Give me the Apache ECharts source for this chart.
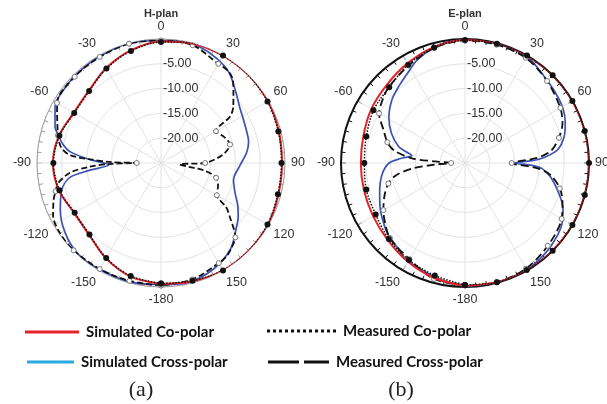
<!DOCTYPE html>
<html>
<head>
<meta charset="utf-8">
<script src="https://cdn.jsdelivr.net/npm/echarts@6/dist/echarts.min.js"></script>
<style>
html,body{margin:0;padding:0;background:#fff;}
#chart{width:607px;height:404px;}
</style>
</head>
<body>
<div id="chart"></div>
<script>
// ---------------- DATA (angle in degrees, level in dB) ----------------
const seriesNames = ['Simulated Co-polar', 'Simulated Cross-polar', 'Measured Co-polar', 'Measured Cross-polar'];
const planTitles = ['H-plan', 'E-plan'];
const panelLabels = ['(a)', '(b)'];
const radiusLabelled = [-20, -15, -10, -5];

// H-plane
const hCoAngles = [-180,-165,-150,-135,-120,-105,-90,-75,-60,-45,-30,-15,0,15,30,45,60,75,90,105,120,135,150,165,180];
const hSimCoDb  = [-0.6,-1.3,-2.8,-4.5,-4.8,-3.7,-3.2,-3.7,-4.7,-4.4,-2.9,-1.5,-0.5,-0.1,0,0,-0.1,-0.4,-0.6,-0.5,-0.1,0,0,-0.3,-0.6];
const hMeasCoDb = [-0.7,-1.4,-2.9,-4.6,-4.9,-3.8,-3.3,-3.8,-4.8,-4.5,-3.0,-1.6,-0.6,0,0,0,-0.2,-0.5,-0.7,-0.6,-0.2,0,0,-0.4,-0.7];

const hSimXAngles = [-180,-165,-148,-137,-126,-115,-105,-99,-96,-92,-87,-83,-79,-75,-71,-62,-50,-40,-30,-15,0,9,18,28,37,47,55,62,70,76,83,92,103,112,119,125,130,141,154,168,180];
const hSimXDb     = [-0.5,-0.2,-0.2,-0.2,-1.1,-2.6,-4.3,-6.4,-10.3,-14.5,-10.4,-6.6,-4.8,-3.6,-2.4,-0.8,-0.4,-0.3,-0.2,0,-0.3,-0.2,-0.3,-1.1,-2.2,-4.3,-5.6,-6.2,-6.6,-6.8,-7.6,-9.1,-10.0,-8.9,-7.3,-6.0,-5.1,-2.7,-1.1,-0.3,-0.5];

const hMeasXAngles = [-180,-165,-150,-135,-125,-116,-109,-105,-101,-96,-93,-91,-90,-89,-87,-85,-81,-75,-60,-45,-30,-15,0,15,30,36,41,46,52,56,60,67,75,82,90,94,100,105,112,120,124,128,135,140,145,150,165,180];
const hMeasXDb     = [-0.3,-0.4,-0.3,-0.1,-0.2,-0.8,-2.1,-3.0,-3.9,-6.6,-10.6,-15.0,-20.1,-15.0,-10.5,-6.5,-4.6,-3.5,-0.8,-0.4,-0.3,-0.1,-0.3,-0.4,-1.9,-2.0,-2.9,-4.7,-6.5,-8.2,-12.2,-11.3,-10.6,-12.3,-16.1,-21.2,-16.0,-13.5,-12.6,-12.0,-9.2,-7.4,-3.8,-2.8,-2.0,-1.7,-0.7,-0.3];

// E-plane
const eCoAngles = [-180,-165,-150,-135,-120,-105,-90,-75,-60,-45,-30,-15,0,15,30,45,60,75,90,105,120,135,150,165,180];
const eSimCoDb  = [-0.2,-1.0,-2.0,-3.0,-3.6,-3.9,-4.0,-3.8,-3.2,-2.7,-1.8,-0.8,-0.2,0,0,0,0,0,0,0,0,0,0,-0.1,-0.2];
const eMeasCoDb = [-0.4,-1.5,-2.4,-3.3,-4.2,-4.4,-4.7,-4.4,-3.7,-3.4,-2.1,-0.9,-0.2,-0.1,0,0,0,0,0,0,0,0,-0.1,-0.1,-0.4];

const eSimXAngles = [-180,-168,-155,-148,-141,-133,-128,-119,-109,-98,-90,-86,-82,-79,-76,-68,-59,-49,-41,-32,-25,-15,-8,0,15,25,32,42,52,61,68,75,82,86,88,90,92,94,99,108,115,123,134,143,150,165,180];
const eSimXDb     = [-0.1,-1.0,-1.9,-2.2,-3.2,-3.8,-4.4,-5.5,-6.8,-8.1,-9.7,-12.0,-14.2,-12.8,-11.2,-9.0,-7.1,-5.5,-4.6,-3.4,-2.1,-0.9,-0.4,-0.2,-0.1,-0.1,-0.3,-1.3,-1.9,-2.4,-3.2,-4.3,-6.2,-9.0,-11.5,-15.2,-11.5,-9.5,-7.6,-5.1,-3.2,-1.8,-0.9,-0.4,-0.1,0,-0.1];

const eMeasXAngles = [-180,-165,-150,-135,-126,-120,-112,-105,-100,-96,-93,-90,-87,-85,-80,-75,-68,-60,-52,-45,-30,-15,0,15,30,45,60,68,75,82,86,90,94,98,105,112,120,135,150,165,180];
const eMeasXDb     = [-0.3,-0.8,-2.6,-3.6,-5.0,-6.0,-7.5,-9.0,-10.9,-14.3,-19.0,-22.2,-19.0,-14.3,-10.5,-8.8,-7.3,-5.0,-4.0,-3.3,-2.3,-1.0,-0.3,-0.3,-0.5,-1.6,-2.8,-3.8,-5.4,-7.5,-10.5,-15.6,-10.5,-7.6,-5.2,-3.8,-2.5,-1.4,-0.4,-0.1,-0.3];

// ---------------- BUILD ----------------
function toPolar(angles, values) {
  return angles.map(function (a, i) { return [values[i], a < 0 ? a + 360 : a]; });
}
const markEvery15 = function (sym) {
  return function (v) { return (Math.round(v[1]) % 15 === 0) ? sym : 'none'; };
};

const RED = '#e52329', BLUE = '#3b51b3', LEGEND_BLUE = '#2aa9e0';
const FONT = 'Liberation Sans';

function angleAxis(idx, strong) {
  const c = strong ? '#111' : '#9c9c9c';
  return {
    polarIndex: idx, type: 'value', min: 0, max: 360, interval: 30,
    startAngle: 90, clockwise: true,
    axisLine: { show: true, lineStyle: { color: c, width: strong ? 2 : 1 } },
    axisTick: { show: true, inside: true, length: 5, lineStyle: { color: c, width: 1 } },
    minorTick: { show: true, splitNumber: 6, length: 4, lineStyle: { color: c, width: 1 } },
    splitLine: { show: true, lineStyle: { color: '#e3e3e3', width: 1 } },
    axisLabel: {
      margin: 6, color: '#333', fontSize: 12.5, fontFamily: FONT,
      formatter: function (v) { return String(v >= 180 ? v - 360 : v); }
    }
  };
}
function radiusAxis(idx) {
  return {
    polarIndex: idx, type: 'value', min: -25, max: 0, interval: 5,
    axisLine: { show: false }, axisTick: { show: false },
    splitLine: { show: true, lineStyle: { color: '#e3e3e3', width: 1 } },
    axisLabel: {
      margin: -2, align: 'left', verticalAlign: 'middle',
      color: '#333', fontSize: 12.5, fontFamily: FONT,
      formatter: function (v) { return radiusLabelled.indexOf(v) >= 0 ? v.toFixed(2) : ''; }
    }
  };
}
function planSeries(idx, simCoA, simCo, measCo, simXA, simX, measXA, measX, dash) {
  return [
    { name: seriesNames[1], type: 'line', coordinateSystem: 'polar', polarIndex: idx,
      data: toPolar(simXA, simX), smooth: 0.3, symbol: 'none', z: 2,
      lineStyle: { color: BLUE, width: 1.7 }, itemStyle: { color: BLUE } },
    { name: seriesNames[3], type: 'line', coordinateSystem: 'polar', polarIndex: idx,
      data: toPolar(measXA, measX), smooth: 0.3, z: 3,
      symbol: markEvery15('circle'), symbolSize: 5,
      lineStyle: { color: '#111', width: 1.8, type: dash },
      itemStyle: { color: '#fff', borderColor: '#777', borderWidth: 1 } },
    { name: seriesNames[0], type: 'line', coordinateSystem: 'polar', polarIndex: idx,
      data: toPolar(simCoA, simCo), smooth: 0.3, symbol: 'none', z: 4,
      lineStyle: { color: RED, width: 2 }, itemStyle: { color: RED } },
    { name: seriesNames[2], type: 'line', coordinateSystem: 'polar', polarIndex: idx,
      data: toPolar(simCoA, measCo), smooth: 0.3, z: 5,
      symbol: 'circle', symbolSize: 6,
      lineStyle: { color: '#111', width: 1.5, type: 'dotted' },
      itemStyle: { color: '#111' } }
  ];
}

// legend icon paths
let dotPath = 'path://';
for (let i = 0; i < 12; i++) dotPath += 'M' + (i * 6) + ' 0h3v3h-3z';
const dashPath = 'path://M0 0h31v3h-31zM36 0h25v3h-25z';
const legendText = { fontFamily: 'Lato', fontWeight: 'bold', fontSize: 15, color: '#111', lineHeight: 18, padding: [0, 0, 0, 2] };
function legendOne(name, icon, color, left, cy, w) {
  return {
    left: left, top: cy - 9, padding: 0, itemWidth: w, itemHeight: 3, selectedMode: false,
    textStyle: legendText,
    data: [{ name: name, icon: icon, itemStyle: { color: color, borderWidth: 0 } }]
  };
}

const option = {
  animation: false,
  backgroundColor: '#fff',
  polar: [
    { center: [161, 163], radius: 124 },
    { center: [465, 163], radius: 124 }
  ],
  angleAxis: [angleAxis(0, false), angleAxis(1, true)],
  radiusAxis: [radiusAxis(0), radiusAxis(1)],
  legend: [
    legendOne(seriesNames[0], 'rect', RED, 25, 332, 54),
    legendOne(seriesNames[1], 'rect', LEGEND_BLUE, 27, 362, 47),
    legendOne(seriesNames[2], dotPath, '#111', 267, 331, 69),
    legendOne(seriesNames[3], dashPath, '#111', 268, 362, 61)
  ],
  graphic: [
    { type: 'text', x: 161, y: 14, style: { text: planTitles[0], align: 'center', verticalAlign: 'middle', font: 'bold 11px "Liberation Sans"', fill: '#333' } },
    { type: 'text', x: 465, y: 14, style: { text: planTitles[1], align: 'center', verticalAlign: 'middle', font: 'bold 11px "Liberation Sans"', fill: '#333' } },
    { type: 'text', x: 141, y: 390, style: { text: panelLabels[0], align: 'center', verticalAlign: 'middle', font: '22px "Liberation Serif"', fill: '#222' } },
    { type: 'text', x: 401, y: 390, style: { text: panelLabels[1], align: 'center', verticalAlign: 'middle', font: '22px "Liberation Serif"', fill: '#222' } }
  ],
  series: [].concat(
    planSeries(0, hCoAngles, hSimCoDb, hMeasCoDb, hSimXAngles, hSimXDb, hMeasXAngles, hMeasXDb, [6, 3]),
    planSeries(1, eCoAngles, eSimCoDb, eMeasCoDb, eSimXAngles, eSimXDb, eMeasXAngles, eMeasXDb, [8, 4])
  )
};

const chart = echarts.init(document.getElementById('chart'), null, { renderer: 'canvas' });
chart.setOption(option);
</script>
</body>
</html>
